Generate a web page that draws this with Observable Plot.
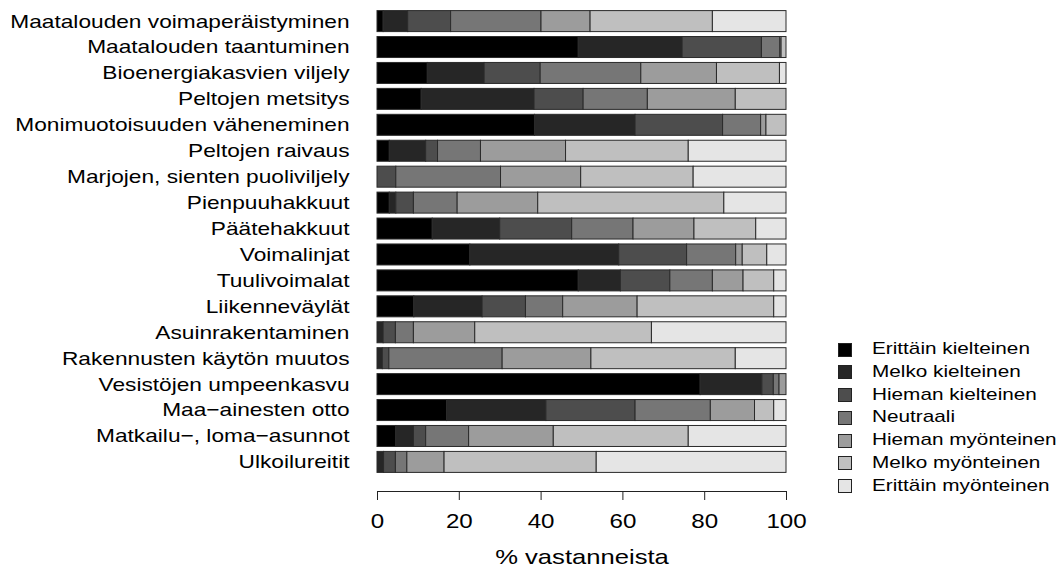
<!DOCTYPE html>
<html>
<head>
<meta charset="utf-8">
<script src="https://cdn.jsdelivr.net/npm/d3@7"></script>
<script src="https://cdn.jsdelivr.net/npm/@observablehq/plot@0.6"></script>
<style>
  html, body { margin: 0; padding: 0; background: #fff; }
  #wrap { position: relative; width: 1062px; height: 577px; font-family: "Liberation Sans", Arial, sans-serif; }
  #legend { position: absolute; left: 838px; top: 338px; }
  .row { position: relative; height: 22.8px; }
  .sw { position: absolute; left: 0; top: 4.5px; width: 12px; height: 12px; border: 1px solid #222; }
  .lb { position: absolute; left: 34px; top: 0; font-size: 17px; line-height: 22px; color: #000; white-space: nowrap; transform: scaleX(1.22); transform-origin: left center; }
</style>
</head>
<body>
<div id="wrap"></div>
<script>
const categories = [
  "Maatalouden voimaperäistyminen",
  "Maatalouden taantuminen",
  "Bioenergiakasvien viljely",
  "Peltojen metsitys",
  "Monimuotoisuuden väheneminen",
  "Peltojen raivaus",
  "Marjojen, sienten puoliviljely",
  "Pienpuuhakkuut",
  "Päätehakkuut",
  "Voimalinjat",
  "Tuulivoimalat",
  "Liikenneväylät",
  "Asuinrakentaminen",
  "Rakennusten käytön muutos",
  "Vesistöjen umpeenkasvu",
  "Maa−ainesten otto",
  "Matkailu−, loma−asunnot",
  "Ulkoilureitit"
];
const levels = [
  "Erittäin kielteinen",
  "Melko kielteinen",
  "Hieman kielteinen",
  "Neutraali",
  "Hieman myönteinen",
  "Melko myönteinen",
  "Erittäin myönteinen"
];
const colors = ["#000000", "#262626", "#4d4d4d", "#767676", "#9c9c9c", "#bfbfbf", "#e5e5e5"];

const erittainKielteinen = [1.5,49.2,12.3,10.8,38.5,3.0,0,3.0,13.5,22.7,49.2,9.0,0,0,79.0,17.0,4.6,0];
const melkoKielteinen    = [6.0,25.4,13.9,27.6,24.6,8.9,0,1.6,16.5,36.4,10.3,16.7,1.5,1.3,15.1,24.3,4.3,1.6];
const hiemanKielteinen   = [10.5,19.4,13.7,12.0,21.4,2.9,4.6,4.3,17.6,16.6,12.1,10.6,3.0,1.6,2.8,21.8,3.0,2.9];
const neutraali          = [22.1,4.5,24.6,15.7,9.3,10.5,25.6,10.7,15.0,12.0,10.4,9.1,4.4,27.7,1.4,18.4,10.5,2.8];
const hiemanMyonteinen   = [12.0,0.3,18.5,21.5,1.3,20.8,19.6,19.7,14.9,1.6,7.5,18.2,15.0,21.7,1.7,10.8,20.7,9.1];
const melkoMyonteinen    = [29.9,1.2,15.4,12.4,4.9,30.0,27.5,45.5,15.1,6.0,7.5,33.4,43.2,35.3,0,4.7,33.0,37.2];
const erittainMyonteinen = [18.0,0,1.6,0,0,23.9,22.7,15.2,7.4,4.7,3.0,3.0,32.9,12.4,0,3.0,23.9,46.4];

const xTicks = [0, 20, 40, 60, 80, 100];
const xLabel = "% vastanneista";

const series = [erittainKielteinen, melkoKielteinen, hiemanKielteinen, neutraali, hiemanMyonteinen, melkoMyonteinen, erittainMyonteinen];

const rows = [];
categories.forEach((c, i) => {
  series.forEach((s, j) => {
    rows.push({category: c, level: levels[j], value: s[i]});
  });
});
const data = rows.filter(d => d.value > 0);

const font = '"Liberation Sans", Arial, sans-serif';

const chart = Plot.plot({
  width: 1062,
  height: 577,
  marginLeft: 377,
  marginRight: 276,
  marginTop: 8,
  marginBottom: 86,
  style: {fontFamily: font, fontSize: "18.6px", color: "#000", background: "#fff"},
  x: {domain: [0, 100], label: null},
  y: {domain: categories, range: [8, 475], paddingInner: 0.19, paddingOuter: 0.1, round: false, label: null},
  color: {domain: levels, range: colors},
  marks: [
    Plot.barX(data, Plot.stackX({
      y: "category",
      x: "value",
      fill: "level",
      order: levels,
      stroke: "#2a2a2a",
      strokeWidth: 1
    })),
    Plot.axisY({tickSize: 0, tickPadding: 28, label: null, fontSize: 18.6}),
    Plot.axisX({ticks: xTicks, tickSize: 9, tickPadding: 13, label: null, fontSize: 19.8, stroke: "#222"}),
    Plot.frame({anchor: "bottom", stroke: "#222"}),
    Plot.text([xLabel], {frameAnchor: "bottom", dy: 72, text: d => d, fontSize: 21, fill: "#000"})
  ]
});

const wrap = document.getElementById("wrap");
wrap.appendChild(chart);

// horizontal stretch of text to match the reference's proportions
chart.querySelectorAll("text").forEach(t => {
  const len = t.getComputedTextLength();
  if (len > 0) {
    t.setAttribute("textLength", (len * 1.22).toFixed(2));
    t.setAttribute("lengthAdjust", "spacingAndGlyphs");
  }
});

const legend = document.createElement("div");
legend.id = "legend";
levels.forEach((l, i) => {
  const r = document.createElement("div");
  r.className = "row";
  const sw = document.createElement("div");
  sw.className = "sw";
  sw.style.background = colors[i];
  const lb = document.createElement("div");
  lb.className = "lb";
  lb.textContent = l;
  r.appendChild(sw);
  r.appendChild(lb);
  legend.appendChild(r);
});
wrap.appendChild(legend);
</script>
</body>
</html>
